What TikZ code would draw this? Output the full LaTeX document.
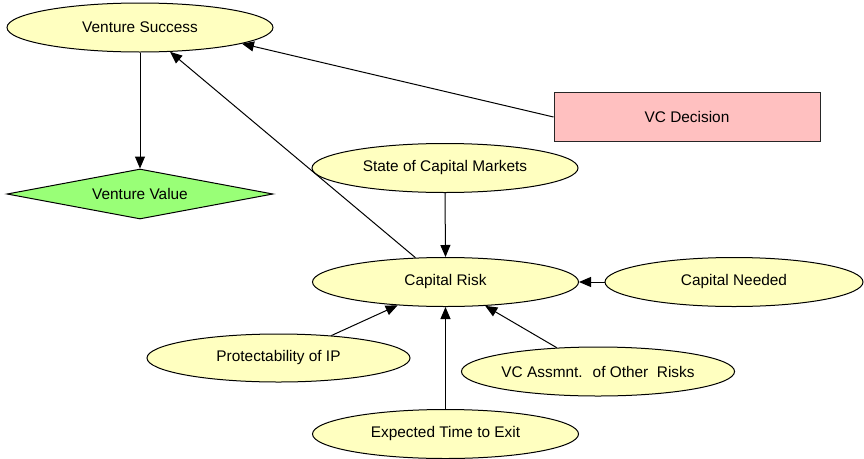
\documentclass[tikz,border=0pt]{standalone}
\usepackage{fontspec}
\setmainfont{Liberation Sans}
\usetikzlibrary{shapes.geometric,arrows.meta}
\definecolor{chancefill}{HTML}{FFFFC0}
\definecolor{valuefill}{HTML}{99FF77}
\definecolor{decisionfill}{HTML}{FFC0C0}
\begin{document}
\begin{tikzpicture}[x=1pt,y=-1pt,
  every node/.style={font=\fontsize{15.4}{18}\selectfont, inner sep=0pt},
  chance/.style={ellipse, draw=black, line width=1pt, fill=chancefill,
    minimum width=266pt, minimum height=49pt},
  valuenode/.style={diamond, shape aspect=5.3, draw=black, line width=1pt, fill=valuefill,
    minimum width=266pt, minimum height=50pt},
  decision/.style={rectangle, draw=black!85, line width=1pt, fill=decisionfill,
    minimum width=266pt, minimum height=49pt},
  link/.style={draw=black, line width=1pt, -{Triangle[length=12pt,width=10pt]}}]
\useasboundingbox (0,0) rectangle (864,458);

% nodes
\node[chance]   (vs)  at (140,27.5)  {Venture Success};
\node[valuenode](vv)  at (140,194)   {Venture Value};
\node[decision] (vc)  at (687,117)   {VC Decision};
\node[chance]   (scm) at (445,168)   {State of Capital Markets};
\node[chance]   (cr)  at (445.5,282) {Capital Risk};
\node[chance, minimum width=258pt] (cn) at (734,282) {Capital Needed};
\node[chance, minimum width=263pt, minimum height=48pt] (pip) at (278.5,358) {Protectability of IP};
\node[chance]   (vca) at (598,371.5) {VC Assmnt.~ of Other~ Risks};
\node[chance]   (ete) at (445.5,434) {Expected Time to Exit};

% influence links
\draw[link] (vs.south) -- (vv.north);
\draw[link] (vc.west) -- (vs.-9);
\draw[link] (cr.141) -- (vs.-39);
\draw[link] (scm.south) -- (cr.north);
\draw[link] (cn.west) -- (cr.east);
\draw[link] (pip.23) -- (cr.206);
\draw[link] (vca.150) -- (cr.-31);
\draw[link] (ete.north) -- (cr.south);
\end{tikzpicture}
\end{document}
